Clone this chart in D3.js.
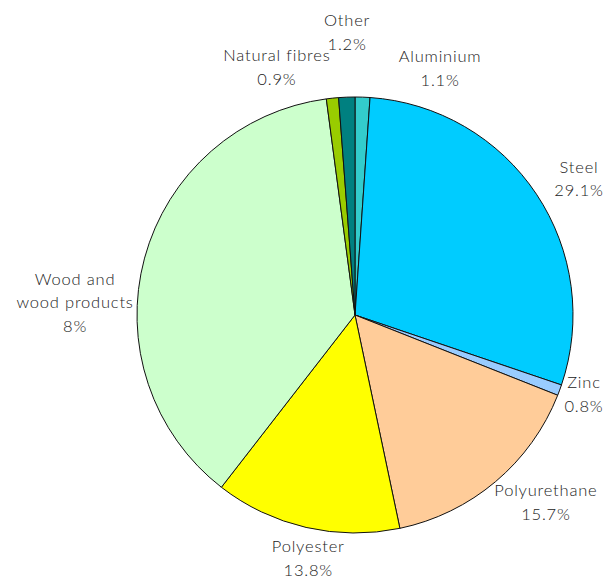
<!DOCTYPE html>
<html>
<head>
  <meta charset="UTF-8">
  <title>Materials pie</title>
  <style>
    body { margin: 0; background: #fff; }
    svg text { font-family: Lato, "Open Sans", sans-serif; font-weight: 300; font-size: 16.5px; letter-spacing: 0.8px; fill: #222; }
  </style>
</head>
<body>
<svg></svg>
<script src="https://d3js.org/d3.v7.min.js"></script>
<script>

let width = 611, height = 580;

// slices, clockwise from 12 o'clock
let categories = ["Aluminium", "Steel", "Zinc", "Polyurethane", "Polyester", "Wood and wood products", "Natural fibres", "Other"];
let values = [1.1, 29.1, 0.8, 15.7, 13.8, 37.4, 0.9, 1.2];
// the label text as printed (wood says 8% in the original)
let labelPct = ["1.1%", "29.1%", "0.8%", "15.7%", "13.8%", "8%", "0.9%", "1.2%"];
let labelLines = [["Aluminium"], ["Steel"], ["Zinc"], ["Polyurethane"], ["Polyester"], ["Wood and", "wood products"], ["Natural fibres"], ["Other"]];
let colors = ["#33cccc", "#00ccff", "#99ccff", "#ffcc99", "#ffff00", "#ccffcc", "#99cc00", "#008080"];

// label nudges from the default spot
let nudge = {
  "Aluminium": [76, 9],
  "Steel": [6, 3],
  "Zinc": [-17, -17],
  "Polyurethane": [22, -19],
  "Polyester": [12, -18],
  "Wood and wood products": [-27, 38],
  "Natural fibres": [-51, 7],
  "Other": [2, -27]
};

let cx = 355, cy = 315, radius = 218, labelR = 262, lineH = 23.5;

let svg = d3.select("svg")
  .attr("width", width)
  .attr("height", height);

let g = svg.append("g").attr("transform", "translate(" + cx + "," + cy + ")");

let color = d3.scaleOrdinal().domain(categories).range(colors);

let pie = d3.pie().sort(null).value(d => d.value);
let rows = categories.map((c, i) => ({ name: c, value: values[i], pct: labelPct[i], lines: labelLines[i] }));
let arcs = pie(rows);

let arc = d3.arc().innerRadius(0).outerRadius(radius);

g.selectAll("path")
  .data(arcs)
  .enter()
  .append("path")
    .attr("d", arc)
    .attr("fill", d => color(d.data.name))
    .attr("stroke", "#111")
    .attr("stroke-width", 1)
    .attr("stroke-linejoin", "round");

let labels = g.selectAll("text.lbl")
  .data(arcs)
  .enter()
  .append("text")
    .attr("class", "lbl")
    .attr("text-anchor", "middle")
    .attr("transform", d => {
      let a = (d.startAngle + d.endAngle) / 2;
      let x = Math.sin(a) * labelR, y = -Math.cos(a) * labelR;
      let n = nudge[d.data.name];
      return "translate(" + (x + n[0]) + "," + (y + n[1]) + ")";
    });

labels.each(function(d) {
  let t = d3.select(this);
  d.data.lines.concat([d.data.pct]).forEach((s, i) => {
    t.append("tspan").attr("x", 0).attr("y", i * lineH).text(s);
  });
});

</script>
</body>
</html>
